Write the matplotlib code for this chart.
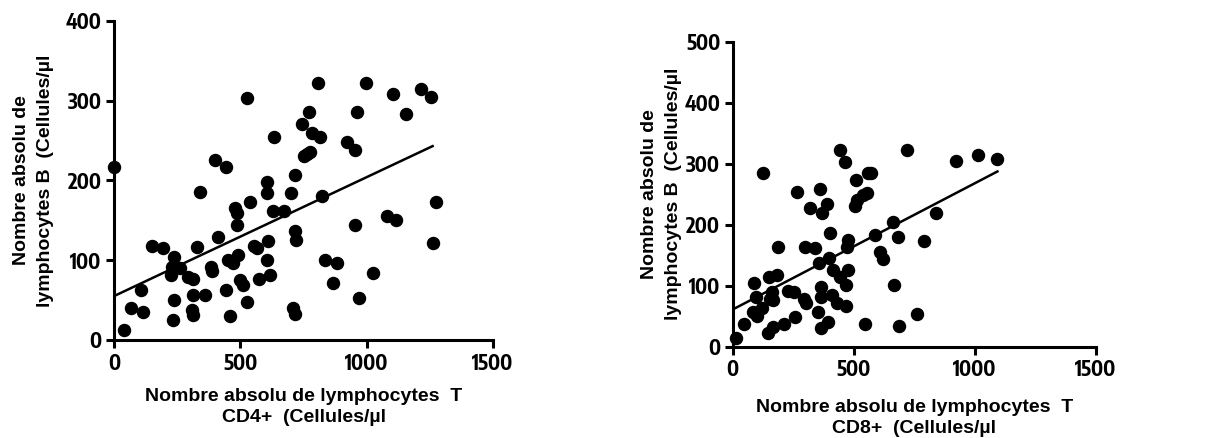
import matplotlib
matplotlib.use("Agg")
import matplotlib.pyplot as plt
import numpy as np
from matplotlib import font_manager

names = {f.name for f in font_manager.fontManager.ttflist}
narrow = next((n for n in ["Liberation Sans Narrow", "Encode Sans Condensed", "Archivo Narrow"]
               if n in names), "Liberation Sans")
plt.rcParams["font.family"] = ["Liberation Sans", "DejaVu Sans"]
plt.rcParams["font.weight"] = "bold"

# ---- Left panel: CD4+ vs B ----
cd4_x = [0, 41, 67, 106, 116, 149, 193, 237, 228, 224, 237, 235, 261, 294, 311, 314, 307, 311,
         330, 340, 360, 383, 387, 400, 413, 443, 443, 452, 459, 472, 479, 488, 485, 492, 499, 509,
         525, 525, 538, 554, 565, 575, 604, 604, 604, 611, 617, 628, 633, 673, 699, 710, 717, 717,
         717, 719, 743, 752, 765, 773, 776, 782, 809, 815, 822, 834, 868, 881, 921, 954, 954, 963,
         971, 997, 1024, 1079, 1103, 1116, 1156, 1214, 1253, 1261, 1274]
cd4_y = [217, 13, 40, 63, 35, 118, 115, 104, 92, 81, 50, 25, 90, 79, 76, 56, 38, 31,
         117, 185, 56, 92, 87, 226, 129, 217, 63, 100, 30, 96, 165, 159, 144, 106, 75, 69,
         303, 48, 173, 118, 115, 77, 198, 184, 100, 124, 81, 161, 254, 162, 184, 40, 33, 207,
         136, 125, 271, 230, 233, 285, 236, 259, 322, 254, 180, 100, 71, 97, 248, 238, 144, 286,
         52, 322, 84, 155, 308, 150, 283, 314, 305, 122, 173]
cd4_fit = (55.0, 0.149)      # intercept, slope
cd4_fit_range = (0, 1261)

# ---- Right panel: CD8+ vs B ----
cd8_x = [14, 47, 88, 96, 83, 99, 120, 127, 147, 168, 151, 161, 154, 168, 182, 189, 212, 230,
         253, 257, 264, 294, 303, 298, 319, 339, 354, 361, 363, 363, 363, 367, 358, 391, 395, 399,
         402, 409, 415, 432, 443, 443, 464, 468, 471, 468, 477, 477, 505, 509, 512, 540, 553, 546,
         560, 570, 588, 608, 622, 663, 666, 684, 688, 721, 762, 790, 839, 922, 1014, 1090]
cd8_y = [14, 37, 105, 82, 57, 50, 63, 284, 23, 33, 115, 90, 79, 77, 117, 163, 38, 92,
         89, 48, 254, 78, 71, 164, 227, 161, 57, 258, 98, 82, 30, 219, 137, 234, 41, 145,
         186, 85, 126, 71, 322, 115, 303, 66, 164, 101, 175, 126, 230, 273, 240, 249, 252, 38,
         285, 285, 183, 156, 143, 205, 101, 180, 34, 322, 54, 174, 219, 305, 314, 307]
cd8_fit = (61.0, 0.207)
cd8_fit_range = (10, 1093)

x_ticks = [0, 500, 1000, 1500]
yticks_left = [0, 100, 200, 300, 400]
yticks_right = [0, 100, 200, 300, 400, 500]

W, H = 1215, 438
fig = plt.figure(figsize=(W / 100, H / 100), dpi=100)

def px_axes(x0, x1, ytop, ybot):
    return fig.add_axes([x0 / W, 1 - ybot / H, (x1 - x0) / W, (ybot - ytop) / H])

axL = px_axes(114, 493, 20.7, 340)
axR = px_axes(732.7, 1096, 41.7, 346.7)

def style(ax, ymax, yticks, xlab, ylab, xpad, ylab_x):
    for s in ["top", "right"]:
        ax.spines[s].set_visible(False)
    for s in ["left", "bottom"]:
        ax.spines[s].set_linewidth(2.2)
    ax.set_xlim(0, 1500)
    ax.set_ylim(0, ymax)
    ax.set_xticks(x_ticks)
    ax.set_yticks(yticks)
    ax.tick_params(direction="out", length=6, width=2.2, pad=3)
    for lab in ax.get_xticklabels() + ax.get_yticklabels():
        lab.set_fontfamily([narrow, "DejaVu Sans"])
        lab.set_fontweight("bold")
        lab.set_fontsize(15)
    ax.set_xlabel(xlab, fontsize=14, fontweight="bold", labelpad=xpad, linespacing=1.3)
    ax.set_ylabel(ylab, fontsize=14, fontweight="bold", linespacing=1.55)
    ax.yaxis.set_label_coords(ylab_x, 0.5)
    ax.patch.set_alpha(0)

def draw(ax, x, y, fit, rng):
    ax.scatter(x, y, s=75, color="black", marker="o", zorder=3, clip_on=False)
    xs = np.array(rng, dtype=float)
    ax.plot(xs, fit[0] + fit[1] * xs, color="black", lw=1.8, zorder=2)

draw(axL, cd4_x, cd4_y, cd4_fit, cd4_fit_range)
style(axL, 400, yticks_left,
      "Nombre absolu de lymphocytes  T\nCD4+  (Cellules/µl",
      "Nombre absolu de\nlymphocytes B  (Cellules/µl", 10, -0.158)

draw(axR, cd8_x, cd8_y, cd8_fit, cd8_fit_range)
style(axR, 500, yticks_right,
      "Nombre absolu de lymphocytes  T\nCD8+  (Cellules/µl",
      "Nombre absolu de\nlymphocytes B  (Cellules/µl", 13, -0.14)

fig.savefig("out.png", dpi=100, facecolor="white")
